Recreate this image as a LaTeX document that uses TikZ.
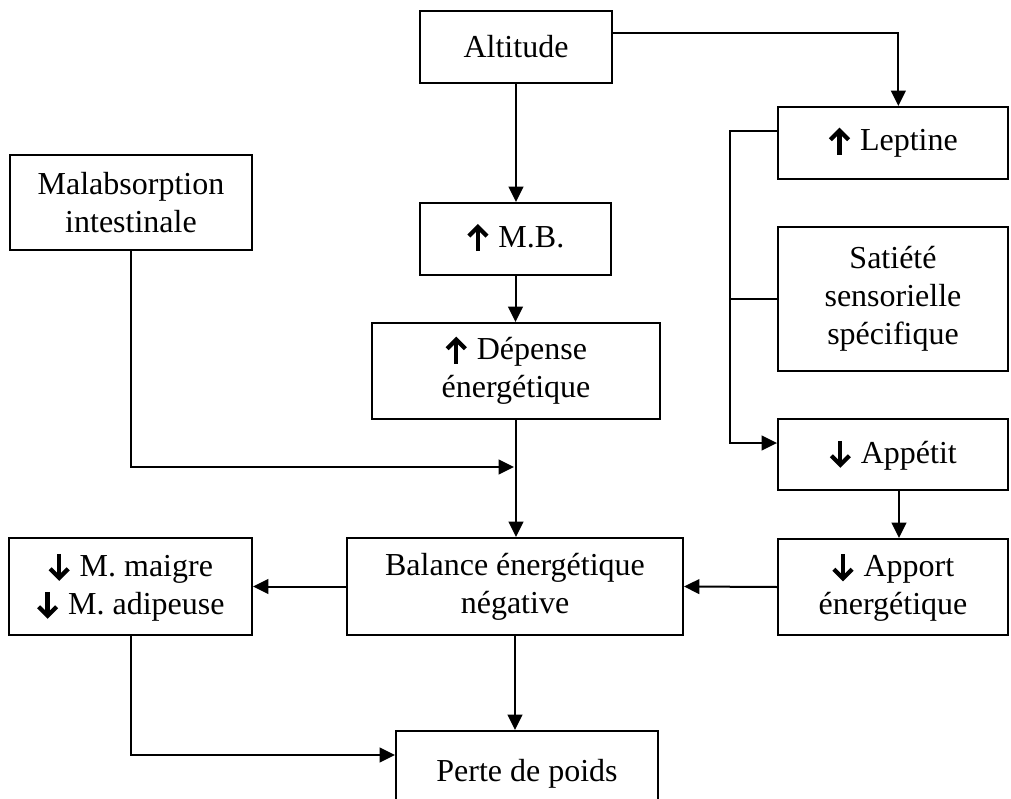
\documentclass[tikz,border=0pt]{standalone}
\usepackage{fontspec}
\setmainfont{Liberation Serif}
\usetikzlibrary{arrows.meta}
\newcommand{\upar}{\tikz[baseline=0pt,x=1pt,y=1pt,line width=3.2pt]{\draw (0,-3) -- (0,14); \draw[miter limit=10] (-6.8,8.2) -- (0,15) -- (6.8,8.2);}\hspace{7pt}}
\newcommand{\dnar}{\tikz[baseline=0pt,x=1pt,y=1pt,line width=3.2pt]{\draw (0,17) -- (0,0); \draw[miter limit=10] (-6.8,5.8) -- (0,-1) -- (6.8,5.8);}\hspace{7pt}}
\newcommand{\bxnode}[6]{\node[box, minimum width={(#4-#2)*0.75pt}, minimum height={(#5-#3)*0.75pt}] (#1) at ({(#2+#4)/2},{(#3+#5)/2}) {#6};}
\begin{document}
\begin{tikzpicture}[x=0.75pt,y=-0.75pt,
  box/.style={draw, line width=1.5pt, inner sep=0pt, align=center, font=\fontsize{24}{28.5}\selectfont},
  conn/.style={line width=1.5pt},
  arr/.style={conn, -{Triangle[length=11.5pt,width=11pt]}}]
\useasboundingbox (0,0) rectangle (1011,799);
\clip (0,0) rectangle (1011,799);
\bxnode{alt}{420}{11}{612}{83}{Altitude}
\bxnode{lep}{778}{107}{1008}{179}{\upar Leptine}
\bxnode{mal}{10}{155}{252}{250}{Malabsorption\\intestinale}
\bxnode{mb}{420}{203}{611}{275}{\upar M.B.}
\bxnode{sat}{778}{227}{1008}{371}{Satiété\\sensorielle\\spécifique}
\bxnode{dep}{372}{323}{660}{419}{\upar Dépense\\énergétique}
\bxnode{app}{778}{419}{1008}{490}{\dnar Appétit}
\bxnode{bal}{347}{538}{683}{635}{Balance énergétique\\négative}
\bxnode{mai}{9}{538}{252}{635}{\dnar M. maigre\\\dnar M. adipeuse}
\bxnode{apo}{778}{539}{1008}{635}{\dnar Apport\\énergétique}
\bxnode{per}{396}{731}{658}{827}{\raisebox{12.75pt}{Perte de poids}}
\coordinate (join) at (514,467);
% connectors
\draw[arr] (alt.south) -- (alt.south |- mb.north);
\draw[arr] ([yshift=10.5pt]alt.east) -| ([xshift=4pt]lep.north);
\draw[arr] ([yshift=9pt]lep.west) -- ++(-47,0) |- ([yshift=8.6pt]app.west);
\draw[conn] (sat.west) -- ++(-47,0);
\draw[arr] (mb.south) -- (mb.south |- dep.north);
\draw[arr] (dep.south) -- (dep.south |- bal.north);
\draw[arr] (mal.south) |- (join);
\draw[arr] ([xshift=4.5pt]app.south) -- ([xshift=4.5pt]app.south |- apo.north);
\draw[arr] (apo.west) -- (bal.east);
\draw[arr] (bal.west) -- (mai.east);
\draw[arr] (bal.south) -- (bal.south |- per.north);
\draw[arr] (mai.south) |- ([yshift=18pt]per.west);
\end{tikzpicture}
\end{document}
